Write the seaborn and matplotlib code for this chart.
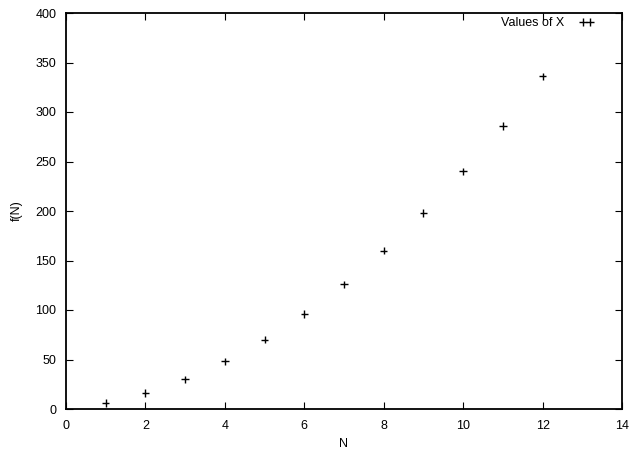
import matplotlib
matplotlib.use("Agg")
import matplotlib.pyplot as plt
import seaborn as sns
import pandas as pd

N = [1, 2, 3, 4, 5, 6, 7, 8, 9, 10, 11, 12]
fN = [6, 16, 30, 48, 70, 96, 126, 160, 198, 240, 286, 336]
series_label = "Values of X"
xticks = [0, 2, 4, 6, 8, 10, 12, 14]
yticks = [0, 50, 100, 150, 200, 250, 300, 350, 400]

sns.set_style("ticks")
plt.rcParams['font.family'] = ['Liberation Sans', 'DejaVu Sans']
plt.rcParams['text.color'] = 'black'
plt.rcParams['axes.labelcolor'] = 'black'

df = pd.DataFrame({"N": N, "f(N)": fN, "s": [series_label] * len(N)})

fig = plt.figure(figsize=(6.29, 4.49), dpi=100)
ax = fig.add_axes([66/629, 1 - 409/449, (622 - 66)/629, (409 - 13)/449])
sns.scatterplot(data=df, x="N", y="f(N)", hue="s", palette=["black"], marker="+",
                s=28, linewidth=1.0, ax=ax)
ax.set_xlim(0, 14)
ax.set_ylim(0, 400)
ax.set_xticks(xticks)
ax.set_yticks(yticks)
ax.tick_params(axis="x", direction="in", length=5, width=0.8, top=True,
               labelsize=9, pad=8, colors="black")
ax.tick_params(axis="y", direction="in", length=5, width=0.8, right=True,
               labelsize=9, pad=7, colors="black")
for sp in ax.spines.values():
    sp.set_visible(True)
    sp.set_linewidth(1.3)
    sp.set_color("black")
ax.set_xlabel("N", fontsize=9, labelpad=4, color="black")
ax.set_ylabel("f(N)", fontsize=9, labelpad=9, color="black")
leg = ax.legend(loc="upper right", bbox_to_anchor=(594/629, 1 - 17/449),
                bbox_transform=fig.transFigure, frameon=False, markerfirst=False,
                numpoints=2, scatterpoints=2, scatteryoffsets=[0.75, 0.35],
                handlelength=1.2, handletextpad=1.2, fontsize=9, borderaxespad=0.0,
                borderpad=0.0, markerscale=1.0)
for t in leg.get_texts():
    t.set_color("black")
fig.savefig("out.png", dpi=100)
